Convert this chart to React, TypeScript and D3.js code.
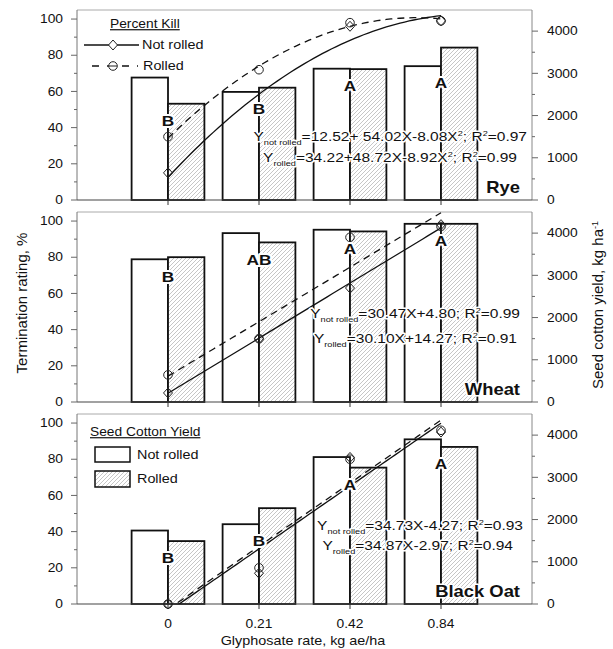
import React from "react";
import * as d3 from "d3";

// glyphosate rates (x categories) and crops (one panel each)
const rates = ["0", "0.21", "0.42", "0.84"];
const crops = ["Rye", "Wheat", "Black Oat"];

// seed cotton yield, kg/ha (bars, right axis)
const yieldNotRolled = [
  [2900, 2560, 3110, 3170],
  [3380, 4000, 4080, 4220],
  [1740, 1890, 3480, 3900],
];
const yieldRolled = [
  [2280, 2660, 3100, 3610],
  [3430, 3780, 4040, 4220],
  [1490, 2270, 3230, 3720],
];
const letters = [
  ["B", "B", "A", "A"],
  ["B", "AB", "A", "A"],
  ["B", "B", "A", "A"],
];

// percent kill (points, left axis)
const killNotRolled = [
  [15, 51, 96, 99],
  [5, 35, 63, 98],
  [0, 17, 81, 95],
];
const killRolled = [
  [35, 72, 98, 99],
  [15, 35, 91, 97],
  [0, 20, 80, 96],
];

// regression coefficients [c0, c1, c2], X = rate index 0..3
const fitNotRolled = [
  [12.52, 54.02, -8.08],
  [4.8, 30.47, 0],
  [-4.27, 34.73, 0],
];
const fitRolled = [
  [34.22, 48.72, -8.92],
  [14.27, 30.1, 0],
  [-2.97, 34.87, 0],
];
const eqNotRolled = [
  "Y_{not rolled}=12.52+ 54.02X-8.08X^{2}; R^{2}=0.97",
  "Y_{not rolled}=30.47X+4.80; R^{2}=0.99",
  "Y_{not rolled}=34.73X-4.27; R^{2}=0.93",
];
const eqRolled = [
  "Y_{rolled}=34.22+48.72X-8.92X^{2}; R^{2}=0.99",
  "Y_{rolled}=30.10X+14.27; R^{2}=0.91",
  "Y_{rolled}=34.87X-2.97; R^{2}=0.94",
];

const leftTicks = [0, 20, 40, 60, 80, 100];
const rightTicks = [0, 1000, 2000, 3000, 4000];

const W = 613;
const H = 649;
const xLeft = 77;
const xRight = 532;
const panelTops = [10, 212, 414];
const panelH = 190;
const SX = 1.15; // the original text is a bit wide
const font = "Arial, 'Liberation Sans', sans-serif";

// text drawn a little stretched horizontally
function T({ x, y, anchor = "start", size = 12, weight = "normal", halo = 0, under = false, children }) {
  return (
    <g transform={`translate(${x},${y}) scale(${SX},1)`}>
      <text
        textAnchor={anchor}
        fontSize={size}
        fontWeight={weight}
        fontFamily={font}
        dy="0.35em"
        fill="#111"
        stroke={halo ? "white" : "none"}
        strokeWidth={halo}
        strokeLinejoin="round"
        paintOrder="stroke"
        textDecoration={under ? "underline" : undefined}
      >
        {children}
      </text>
    </g>
  );
}

// "Y_{sub}=...^{2}" -> tspans
function eqSpans(s) {
  const parts = s.split(/(_\{[^}]*\}|\^\{[^}]*\})/).filter((p) => p !== "");
  let shift = 0;
  return parts.map((p, i) => {
    let dy = -shift;
    if (p.startsWith("_{")) {
      shift = 4;
      return (
        <tspan key={i} dy={dy + 4} fontSize={8}>
          {p.slice(2, -1)}
        </tspan>
      );
    }
    if (p.startsWith("^{")) {
      shift = -5;
      return (
        <tspan key={i} dy={dy - 5} fontSize={8}>
          {p.slice(2, -1)}
        </tspan>
      );
    }
    shift = 0;
    return (
      <tspan key={i} dy={dy}>
        {p}
      </tspan>
    );
  });
}

function Panel({ idx, last }) {
  const top = panelTops[idx];
  const bottom = top + panelH;

  const x = d3.scaleBand().domain(rates).range([xLeft, xRight]).paddingInner(0).paddingOuter(0.5);
  const cx = (r) => x(r) + x.bandwidth() / 2;
  const barW = x.bandwidth() * 0.4;
  const yL = d3.scaleLinear().domain([0, 105]).range([bottom, top]);
  const yR = d3.scaleLinear().domain([0, 4500]).range([bottom, top]);
  const xi = d3.scaleLinear().domain([0, 3]).range([cx(rates[0]), cx(rates[3])]);

  const fitLine = (c) =>
    d3
      .line()
      .x((X) => xi(X))
      .y((X) => yL(c[0] + c[1] * X + c[2] * X * X))(d3.range(0, 3.001, 0.05));

  const clipId = `clip${idx}`;
  const eqY = [
    [141, 162],
    [318, 343],
    [530, 550],
  ][idx];
  const eqRight = [
    [527, 517],
    [520, 517],
    [523, 513],
  ][idx];

  return (
    <g>
      <defs>
        <clipPath id={clipId}>
          <rect x={xLeft} y={top} width={xRight - xLeft} height={panelH} />
        </clipPath>
      </defs>

      {/* frame */}
      <line x1={xLeft} x2={xRight} y1={top} y2={top} stroke="#aaa" />
      <line x1={xLeft} x2={xLeft} y1={top} y2={bottom} stroke="#777" />
      <line x1={xRight} x2={xRight} y1={top} y2={bottom} stroke="#888" />

      {/* left axis */}
      {d3.range(0, 105, 10).map((v) => (
        <line key={"lm" + v} x1={xLeft - (v % 20 === 0 ? 6 : 3)} x2={xLeft} y1={yL(v)} y2={yL(v)} stroke="#666" />
      ))}
      {leftTicks.map((v) => (
        <T key={"lt" + v} x={63} y={yL(v)} anchor="end" size={12}>
          {v}
        </T>
      ))}

      {/* right axis */}
      {d3.range(0, 4500, 500).map((v) => (
        <line key={"rm" + v} x1={xRight} x2={xRight + (v % 1000 === 0 ? 6 : 3)} y1={yR(v)} y2={yR(v)} stroke="#666" />
      ))}
      {rightTicks.map((v) => (
        <T key={"rt" + v} x={547} y={yR(v)} size={12}>
          {v}
        </T>
      ))}

      {/* bars */}
      {rates.map((r, i) => (
        <g key={"b" + r}>
          <rect
            x={cx(r) - barW}
            y={yR(yieldNotRolled[idx][i])}
            width={barW}
            height={bottom - yR(yieldNotRolled[idx][i])}
            fill="white"
            stroke="#111"
            strokeWidth={1.8}
          />
          <rect
            x={cx(r)}
            y={yR(yieldRolled[idx][i])}
            width={barW}
            height={bottom - yR(yieldRolled[idx][i])}
            fill="url(#hatch)"
            stroke="#111"
            strokeWidth={1.8}
          />
          <line x1={cx(r)} x2={cx(r)} y1={bottom} y2={bottom + 5} stroke="#333" />
        </g>
      ))}

      {/* bottom axis */}
      <line x1={xLeft} x2={xRight} y1={bottom} y2={bottom} stroke="#444" strokeWidth={1.2} />

      {/* fitted lines */}
      <g clipPath={`url(#${clipId})`}>
        <path d={fitLine(fitNotRolled[idx])} fill="none" stroke="#111" strokeWidth={1.3} />
        <path d={fitLine(fitRolled[idx])} fill="none" stroke="#111" strokeWidth={1.3} strokeDasharray="7,5" />
      </g>

      {/* points */}
      {rates.map((r, i) => {
        const py = yL(killNotRolled[idx][i]);
        return (
          <path
            key={"pn" + r}
            d={`M${cx(r)},${py - 5}L${cx(r) + 4.5},${py}L${cx(r)},${py + 5}L${cx(r) - 4.5},${py}Z`}
            fill="none"
            stroke="#222"
            strokeWidth={1}
          />
        );
      })}
      {rates.map((r, i) => (
        <circle key={"pr" + r} cx={cx(r)} cy={yL(killRolled[idx][i])} r={4.3} fill="none" stroke="#222" strokeWidth={1} />
      ))}

      {/* mean separation letters */}
      {rates.map((r, i) => (
        <T
          key={"l" + r}
          x={cx(r)}
          y={yR(Math.min(yieldNotRolled[idx][i], yieldRolled[idx][i])) + 17}
          anchor="middle"
          size={15}
          weight="bold"
          halo={4}
        >
          {letters[idx][i]}
        </T>
      ))}

      {/* regression equations */}
      <T x={eqRight[0]} y={eqY[0]} anchor="end" size={13.5} halo={3}>
        {eqSpans(eqNotRolled[idx])}
      </T>
      <T x={eqRight[1]} y={eqY[1]} anchor="end" size={13.5} halo={3}>
        {eqSpans(eqRolled[idx])}
      </T>

      <T x={520} y={bottom - 13} anchor="end" size={16} weight="bold" halo={3}>
        {crops[idx]}
      </T>

      {last &&
        rates.map((r) => (
          <T key={"xt" + r} x={cx(r)} y={bottom + 20} anchor="middle" size={12}>
            {r}
          </T>
        ))}
    </g>
  );
}

export default function App() {
  return (
    <svg width={W} height={H} style={{ position: "absolute", left: 0, top: 0, background: "white" }}>
      <defs>
        <pattern id="hatch" patternUnits="userSpaceOnUse" width={4} height={4}>
          <rect width={4} height={4} fill="white" />
          <path d="M-1,1 l2,-2 M0,4 l4,-4 M3,5 l2,-2" stroke="#a0a0a0" strokeWidth={0.6} />
        </pattern>
      </defs>
      <rect width={W} height={H} fill="white" />

      {crops.map((c, i) => (
        <Panel key={c} idx={i} last={i === crops.length - 1} />
      ))}

      {/* percent kill legend */}
      <T x={110} y={24} size={12} under>
        Percent Kill
      </T>
      <line x1={84} x2={139} y1={45} y2={45} stroke="#111" strokeWidth={1.3} />
      <path d="M113,40L117.5,45L113,50L108.5,45Z" fill="white" stroke="#222" strokeWidth={1} />
      <T x={142} y={45} size={12.5}>
        Not rolled
      </T>
      <line x1={88} x2={138} y1={66} y2={66} stroke="#111" strokeWidth={1.3} strokeDasharray="7,8" strokeDashoffset={-4} />
      <circle cx={113} cy={66} r={4.3} fill="white" stroke="#222" strokeWidth={1} />
      <line x1={109} x2={117} y1={66} y2={66} stroke="#222" />
      <T x={143} y={66} size={12.5}>
        Rolled
      </T>

      {/* seed cotton yield legend */}
      <T x={90} y={432} size={12} under>
        Seed Cotton Yield
      </T>
      <rect x={95} y={447} width={35} height={15} fill="white" stroke="#111" strokeWidth={1.5} />
      <T x={137} y={455} size={12.5}>
        Not rolled
      </T>
      <rect x={95} y={471} width={35} height={16} fill="url(#hatch)" stroke="#111" strokeWidth={1.5} />
      <T x={137} y={479} size={12.5}>
        Rolled
      </T>

      {/* axis titles */}
      <text
        transform="translate(22,303) rotate(-90)"
        textAnchor="middle"
        dy="0.35em"
        fontSize={15}
        fontFamily={font}
        fill="#111"
      >
        Termination rating, %
      </text>
      <text
        transform="translate(598,305) rotate(-90)"
        textAnchor="middle"
        dy="0.35em"
        fontSize={15}
        fontFamily={font}
        fill="#111"
      >
        Seed cotton yield, kg ha
        <tspan dy={-5} fontSize={9}>
          -1
        </tspan>
      </text>
      <T x={303} y={641} anchor="middle" size={12.5}>
        Glyphosate rate, kg ae/ha
      </T>
    </svg>
  );
}
